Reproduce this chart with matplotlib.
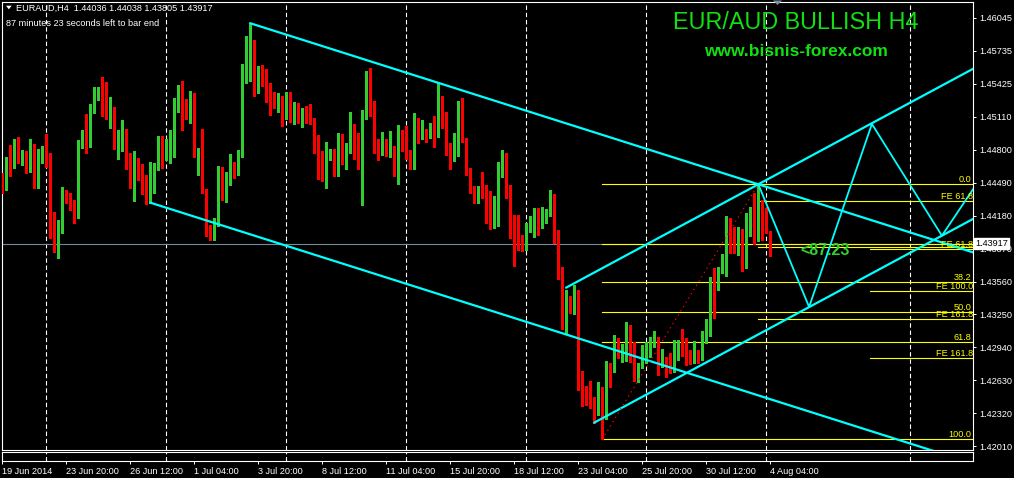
import numpy as np
import matplotlib
matplotlib.use("Agg")
import matplotlib.pyplot as plt
from matplotlib.transforms import blended_transform_factory

# EURAUD H4 candles (bar 0 = 19 Jun 2014)
opens = [1.44523, 1.44501, 1.44674, 1.44658, 1.44777, 1.44736, 1.44768, 1.44736, 1.44790, 1.44517,
         1.44696, 1.44871, 1.44730, 1.44108, 1.43936, 1.44086, 1.44375, 1.44353, 1.44281, 1.44171,
         1.44871, 1.44956, 1.44831, 1.45201, 1.45320, 1.45333, 1.45261, 1.45185, 1.45192, 1.44824,
         1.44856, 1.44925, 1.44752, 1.44460, 1.44680, 1.44532, 1.44470, 1.44375, 1.44564, 1.44633,
         1.44856, 1.44740, 1.44746, 1.44743, 1.45280, 1.45374, 1.45245, 1.45104, 1.45292, 1.44787,
         1.44799, 1.44413, 1.44021, 1.43983, 1.44093, 1.44602, 1.44350, 1.44495, 1.44605, 1.44586,
         1.44743, 1.45484, 1.45584, 1.45685, 1.45349, 1.45562, 1.45437, 1.45327, 1.45261, 1.45208,
         1.45261, 1.45104, 1.45296, 1.45104, 1.45176, 1.45129, 1.45139, 1.45107, 1.45091, 1.44894,
         1.44680, 1.44555, 1.44737, 1.44777, 1.44699, 1.44903, 1.44680, 1.44815, 1.44956, 1.44884,
         1.44752, 1.45123, 1.45449, 1.45223, 1.44856, 1.44799, 1.44894, 1.44784, 1.44825, 1.44564,
         1.44978, 1.44972, 1.44777, 1.44730, 1.45073, 1.44934, 1.44950, 1.44947, 1.45035, 1.44925,
         1.45167, 1.45091, 1.44799, 1.44746, 1.44916, 1.45208, 1.44909, 1.44573, 1.44454, 1.44322,
         1.44454, 1.44375, 1.44297, 1.44124, 1.44150, 1.44589, 1.44762, 1.44438, 1.44187, 1.44008,
         1.43970, 1.43867, 1.44068, 1.44115, 1.44140, 1.44134, 1.44156, 1.44209, 1.44360, 1.43989,
         1.43613, 1.43113, 1.43408, 1.43292, 1.43433, 1.42670, 1.42523, 1.42435, 1.42407, 1.42325,
         1.42454, 1.42360, 1.42765, 1.42749, 1.43000, 1.42868, 1.42906, 1.43032, 1.42906, 1.42711,
         1.42749, 1.42890, 1.42925, 1.42978, 1.43019, 1.42781, 1.42846, 1.42831, 1.42790, 1.42925,
         1.42978, 1.42947, 1.42859, 1.42828, 1.42890, 1.42828, 1.42994, 1.43057, 1.43597, 1.43518,
         1.43653, 1.43700, 1.44062, 1.43983, 1.43945, 1.44008, 1.43726, 1.44014, 1.44203, 1.44093,
         1.44281, 1.44209, 1.44036]
highs = [1.44579, 1.44730, 1.44846, 1.44903, 1.44919, 1.44799, 1.44790, 1.44903, 1.44856, 1.44809,
         1.44840, 1.44950, 1.44768, 1.44212, 1.44140, 1.44454, 1.44422, 1.44397, 1.44328, 1.44893,
         1.44988, 1.45138, 1.45233, 1.45390, 1.45390, 1.45484, 1.45437, 1.45295, 1.45207, 1.44988,
         1.45082, 1.44994, 1.44768, 1.44790, 1.44727, 1.44667, 1.44564, 1.44683, 1.44680, 1.44931,
         1.44931, 1.44900, 1.44988, 1.45292, 1.45412, 1.45449, 1.45277, 1.45355, 1.45333, 1.44815,
         1.44994, 1.44429, 1.44093, 1.44156, 1.44649, 1.44642, 1.44595, 1.44759, 1.44683, 1.44799,
         1.45610, 1.45873, 1.45993, 1.45836, 1.45591, 1.45600, 1.45559, 1.45427, 1.45343, 1.45333,
         1.45308, 1.45349, 1.45343, 1.45248, 1.45239, 1.45198, 1.45214, 1.45233, 1.45104, 1.44941,
         1.44790, 1.44878, 1.44806, 1.44806, 1.44956, 1.44947, 1.44869, 1.45154, 1.45044, 1.44956,
         1.45176, 1.45544, 1.45569, 1.45261, 1.44900, 1.44972, 1.44900, 1.44978, 1.44837, 1.45035,
         1.44988, 1.45026, 1.44799, 1.45151, 1.45098, 1.45082, 1.44994, 1.45057, 1.45120, 1.45434,
         1.45308, 1.45154, 1.44862, 1.44956, 1.45261, 1.45286, 1.44909, 1.44633, 1.44460, 1.44463,
         1.44595, 1.44470, 1.44416, 1.44366, 1.44690, 1.44799, 1.44768, 1.44470, 1.44187, 1.44187,
         1.43999, 1.44109, 1.44178, 1.44250, 1.44250, 1.44266, 1.44240, 1.44423, 1.44385, 1.44046,
         1.43700, 1.43481, 1.43424, 1.43528, 1.43481, 1.42718, 1.42576, 1.42623, 1.42476, 1.42617,
         1.42570, 1.42812, 1.42796, 1.43057, 1.43032, 1.42972, 1.43182, 1.43151, 1.42994, 1.42796,
         1.42963, 1.42994, 1.43041, 1.43094, 1.43041, 1.42925, 1.42853, 1.42884, 1.43010, 1.43010,
         1.43113, 1.43025, 1.42915, 1.43000, 1.42915, 1.43094, 1.43207, 1.43606, 1.43691, 1.43700,
         1.43817, 1.44178, 1.44162, 1.44071, 1.44077, 1.44055, 1.44203, 1.44259, 1.44398, 1.44476,
         1.44328, 1.44250, 1.44038]
lows = [1.44397, 1.44422, 1.44557, 1.44633, 1.44674, 1.44658, 1.44586, 1.44595, 1.44444, 1.44444,
        1.44674, 1.44642, 1.43973, 1.43842, 1.43779, 1.44021, 1.44297, 1.44234, 1.44115, 1.44162,
        1.44815, 1.44774, 1.44824, 1.45145, 1.45270, 1.45123, 1.45091, 1.45010, 1.44806, 1.44711,
        1.44793, 1.44617, 1.44444, 1.44322, 1.44517, 1.44382, 1.44287, 1.44303, 1.44391, 1.44611,
        1.44627, 1.44705, 1.44674, 1.44736, 1.45160, 1.44988, 1.45088, 1.45050, 1.44736, 1.44564,
        1.44398, 1.43989, 1.43952, 1.43952, 1.44084, 1.44328, 1.44313, 1.44470, 1.44539, 1.44564,
        1.44737, 1.45434, 1.45449, 1.45311, 1.45333, 1.45405, 1.45255, 1.45129, 1.45192, 1.45161,
        1.45026, 1.45091, 1.45066, 1.45041, 1.45051, 1.45019, 1.45051, 1.45044, 1.44768, 1.44526,
        1.44507, 1.44445, 1.44705, 1.44558, 1.44558, 1.44667, 1.44620, 1.44774, 1.44712, 1.44620,
        1.44281, 1.45091, 1.45120, 1.44774, 1.44705, 1.44752, 1.44743, 1.44737, 1.44555, 1.44479,
        1.44793, 1.44712, 1.44617, 1.44620, 1.44869, 1.44900, 1.44878, 1.44916, 1.44831, 1.44919,
        1.45003, 1.44752, 1.44620, 1.44699, 1.44743, 1.44878, 1.44564, 1.44398, 1.44297, 1.44303,
        1.44344, 1.44115, 1.44055, 1.44061, 1.44087, 1.44548, 1.44350, 1.43974, 1.43707, 1.43857,
        1.43851, 1.43857, 1.44030, 1.43977, 1.43999, 1.44061, 1.44109, 1.44181, 1.43927, 1.43581,
        1.43110, 1.43072, 1.43267, 1.43254, 1.42539, 1.42391, 1.42397, 1.42372, 1.42231, 1.42303,
        1.42074, 1.42262, 1.42570, 1.42711, 1.42837, 1.42806, 1.42815, 1.42806, 1.42627, 1.42611,
        1.42743, 1.42790, 1.42846, 1.42947, 1.42680, 1.42758, 1.42664, 1.42696, 1.42711, 1.42821,
        1.42862, 1.42774, 1.42780, 1.42790, 1.42796, 1.42821, 1.42985, 1.43050, 1.43220, 1.43481,
        1.43638, 1.43613, 1.43826, 1.43826, 1.43810, 1.43660, 1.43691, 1.43989, 1.43911, 1.43945,
        1.43952, 1.44014, 1.43805]
closes = [1.44501, 1.44674, 1.44658, 1.44777, 1.44727, 1.44768, 1.44746, 1.44790, 1.44517, 1.44705,
          1.44768, 1.44736, 1.44108, 1.43936, 1.44086, 1.44366, 1.44344, 1.44275, 1.44171, 1.44871,
          1.44956, 1.44831, 1.45201, 1.45327, 1.45327, 1.45255, 1.45176, 1.45192, 1.44824, 1.44856,
          1.44919, 1.44746, 1.44454, 1.44674, 1.44523, 1.44454, 1.44375, 1.44564, 1.44636, 1.44856,
          1.44642, 1.44746, 1.44752, 1.45280, 1.45380, 1.45239, 1.45104, 1.45292, 1.44784, 1.44793,
          1.44407, 1.44021, 1.43967, 1.44093, 1.44602, 1.44350, 1.44495, 1.44611, 1.44589, 1.44752,
          1.45484, 1.45594, 1.45694, 1.45349, 1.45569, 1.45421, 1.45311, 1.45255, 1.45201, 1.45255,
          1.45113, 1.45296, 1.45104, 1.45176, 1.45129, 1.45135, 1.45098, 1.45082, 1.44887, 1.44680,
          1.44555, 1.44743, 1.44774, 1.44699, 1.44903, 1.44674, 1.44815, 1.44950, 1.44869, 1.44759,
          1.45129, 1.45459, 1.45214, 1.44847, 1.44799, 1.44894, 1.44768, 1.44825, 1.44564, 1.44978,
          1.44799, 1.44774, 1.44727, 1.45073, 1.44925, 1.44950, 1.44944, 1.45044, 1.44925, 1.45167,
          1.45088, 1.44790, 1.44746, 1.44925, 1.45201, 1.44909, 1.44573, 1.44448, 1.44322, 1.44454,
          1.44369, 1.44291, 1.44134, 1.44156, 1.44602, 1.44752, 1.44429, 1.44181, 1.44005, 1.43967,
          1.43867, 1.44071, 1.44124, 1.44140, 1.44124, 1.44165, 1.44225, 1.44360, 1.43983, 1.43591,
          1.43120, 1.43418, 1.43292, 1.43443, 1.42664, 1.42514, 1.42422, 1.42397, 1.42319, 1.42454,
          1.42366, 1.42758, 1.42752, 1.43000, 1.42875, 1.42922, 1.43032, 1.42890, 1.42711, 1.42758,
          1.42900, 1.42937, 1.42985, 1.43010, 1.42784, 1.42843, 1.42828, 1.42784, 1.42931, 1.42978,
          1.42900, 1.42806, 1.42828, 1.42890, 1.42828, 1.43000, 1.43072, 1.43597, 1.43521, 1.43660,
          1.43707, 1.44062, 1.43974, 1.43952, 1.44008, 1.43726, 1.44024, 1.44203, 1.44093, 1.44281,
          1.44077, 1.44021, 1.43917]

date_ticks = [0, 16, 32, 48, 64, 80, 96, 112, 128, 144, 160, 176, 192]
date_labels = ["19 Jun 2014", "23 Jun 20:00", "26 Jun 12:00", "1 Jul 04:00", "3 Jul 20:00",
               "8 Jul 12:00", "11 Jul 04:00", "15 Jul 20:00", "18 Jul 12:00", "23 Jul 04:00",
               "25 Jul 20:00", "30 Jul 12:00", "4 Aug 04:00"]
price_ticks = [1.46045, 1.45735, 1.45425, 1.45110, 1.44800, 1.44490, 1.44180, 1.43870,
               1.43560, 1.43250, 1.42940, 1.42630, 1.42320, 1.42010]
separator_bars = [11, 41, 71, 101, 131, 161, 191, 227]
bid = 1.43917

# drawn objects, anchors as (bar, price)
down_chan_top = [(62, 1.45993), (189, 1.44476)]
down_chan_bottom_start = (37, 1.44303)
up_chan_bottom = [(148, 1.42231), (234.9, 1.43992)]
up_chan_top_start_bar = 141
zigzag_bars = [189, 201.7, 217.4, 234.9, 245]
zigzag_prices = [1.44476, 1.43321, 1.45044, 1.43992, 1.44560]
fib_low = (150, 1.42074)
fib_high = (189, 1.44476)
fib_ratios = [0.0, 23.6, 38.2, 50.0, 61.8, 100.0]
fib_labels = ["0.0", "", "38.2", "50.0", "61.8", "100.0"]
fe_a_start = 189
fe_a_levels = [1.44316, 1.43882, 1.43204]
fe_a_labels = ["FE 61.8", "", "FE 161.8"]
fe_b_start = 217
fe_b_levels = [1.43864, 1.43468, 1.42837]
fe_b_labels = ["FE 61.8", "FE 100.0", "FE 161.8"]

W, H = 1014, 478
XMIN, XMAX = -0.15, 242.75
YMIN, YMAX = 1.41973, 1.46198
GREEN = "#32CD32"
CYAN = "#00FFFF"
YELLOW = "#FFFF00"
FONT = "Liberation Sans"

fig = plt.figure(figsize=(W / 100, H / 100), dpi=100, facecolor="black")


def fx(px):
    return px / W


def fy(py):
    return 1 - py / H


ax = fig.add_axes([fx(1.7), fy(450), fx(971.6), 448.5 / H])
ax.set_facecolor("black")
ax.set_xlim(XMIN, XMAX)
ax.set_ylim(YMIN, YMAX)
for s in ax.spines.values():
    s.set_color("white")
    s.set_linewidth(0.8)

# period separators
for b in separator_bars:
    ax.axvline(b, color="white", lw=0.8, ls=(0, (4, 2.5)), zorder=1)

ax.axhline(bid, color="#778899", lw=0.8, zorder=1)

# candles
x = np.arange(len(opens))
o = np.array(opens)
c = np.array(closes)
cols = np.where(c >= o, GREEN, "#FF0000")
ax.vlines(x, lows, highs, colors=cols, lw=0.75, zorder=3, antialiased=False)
body_lo = np.minimum(o, c)
body_h = np.maximum(np.abs(c - o), 0.00009)
ax.bar(x, body_h, bottom=body_lo, width=0.75, color=cols, linewidth=0, zorder=3,
       antialiased=False)


def ray(p1, p2, start=None, end=260):
    slope = (p2[1] - p1[1]) / (p2[0] - p1[0])
    if start is None:
        start = p1
    return [start[0], end], [start[1], start[1] + slope * (end - start[0])]


# descending channel
xs, ys = ray(*down_chan_top)
ax.plot(xs, ys, color=CYAN, lw=1.6, zorder=4)
xs, ys = ray(*down_chan_top, start=down_chan_bottom_start)
ax.plot(xs, ys, color=CYAN, lw=1.6, zorder=4)

# ascending channel, upper line parallel through the swing high
xs, ys = ray(*up_chan_bottom)
ax.plot(xs, ys, color=CYAN, lw=1.6, zorder=4)
slope_up = (up_chan_bottom[1][1] - up_chan_bottom[0][1]) / (up_chan_bottom[1][0] - up_chan_bottom[0][0])
top_start = (up_chan_top_start_bar, fib_high[1] - slope_up * (fib_high[0] - up_chan_top_start_bar))
ax.plot([top_start[0], 260], [top_start[1], top_start[1] + slope_up * (260 - top_start[0])],
        color=CYAN, lw=1.6, zorder=4)

# projected zigzag
ax.plot(zigzag_bars, zigzag_prices, color=CYAN, lw=1.3, zorder=4)

# fibonacci retracement
ax.plot([fib_low[0], fib_high[0]], [fib_low[1], fib_high[1]], color="#FF0000", lw=0.9,
        ls=(0, (1, 3)), zorder=4)
lbl_x = (971.5 - 2.3) / 4
for r, lab in zip(fib_ratios, fib_labels):
    lvl = fib_high[1] - r / 100 * (fib_high[1] - fib_low[1])
    ax.plot([fib_low[0], 260], [lvl, lvl], color=YELLOW, lw=0.8, zorder=2)
    if lab:
        ax.text(lbl_x, lvl, lab, color=YELLOW, fontsize=6.6, family=FONT, ha="right",
                va="bottom", zorder=6)

for start, lvls, labs in [(fe_a_start, fe_a_levels, fe_a_labels), (fe_b_start, fe_b_levels, fe_b_labels)]:
    for lvl, lab in zip(lvls, labs):
        ax.plot([start, 260], [lvl, lvl], color=YELLOW, lw=0.8, zorder=2)
        if lab:
            ax.text(lbl_x + 0.4, lvl, lab, color=YELLOW, fontsize=6.6, family=FONT, ha="right",
                    va="bottom", zorder=6)

ax.text(199.4, 1.43810, "<87.23", color="#2ED22E", fontsize=11.5, family=FONT,
        fontweight="bold", ha="left", va="baseline", zorder=6)

# price axis
ax.yaxis.tick_right()
ax.set_yticks(price_ticks)
ax.set_yticklabels(["%.5f" % p for p in price_ticks])
ax.tick_params(axis="y", colors="white", length=2.2, width=0.7, pad=1.9, labelsize=6.6)
for t in ax.get_yticklabels():
    t.set_family(FONT)
ax.set_xticks([])

tr = blended_transform_factory(ax.transAxes, ax.transData)
ax.text(1.0017, bid, "%.5f" % bid, transform=tr, color="black", fontsize=6.6, family=FONT,
        ha="left", va="center", clip_on=False, zorder=20,
        bbox=dict(boxstyle="square,pad=0.12", fc="white", ec="white"))

# empty sub window with the time axis
sub = fig.add_axes([fx(1.7), fy(461.3), fx(971.6), 9 / H])
sub.set_facecolor("black")
sub.set_xlim(XMIN, XMAX)
sub.set_yticks([])
for s in sub.spines.values():
    s.set_color("white")
    s.set_linewidth(0.8)
for b in separator_bars:
    sub.axvline(b, color="white", lw=0.8, ls=(0, (4, 2.5)))
sub.set_xticks(date_ticks)
sub.set_xticklabels(date_labels)
sub.tick_params(axis="x", colors="white", length=2.2, width=0.7, pad=1.6, labelsize=6.6)
for t in sub.get_xticklabels():
    t.set_family(FONT)
    t.set_ha("left")

# header and watermark texts
fig.text(fx(16), fy(11.3), "EURAUD,H4  1.44036 1.44038 1.43805 1.43917", color="white",
         fontsize=6.6, family=FONT, va="baseline")
fig.text(fx(6), fy(25.5), "87 minutes 23 seconds left to bar end", color="white",
         fontsize=6.6, family=FONT, va="baseline")
fig.add_artist(plt.Polygon([(fx(6), fy(5.7)), (fx(11.7), fy(5.7)), (fx(8.85), fy(9.3))],
                           closed=True, fc="white", ec="none", transform=fig.transFigure))
fig.add_artist(plt.Polygon([(fx(773), fy(0.5)), (fx(782), fy(0.5)), (fx(777.5), fy(5))],
                           closed=True, fc="#8090a0", ec="none", transform=fig.transFigure))
fig.text(fx(796), fy(29.3), "EUR/AUD BULLISH H4", color="#11E011", fontsize=16.8,
         family=FONT, ha="center", va="baseline")
fig.text(fx(795.5), fy(56.5), "www.bisnis-forex.com", color="#11E011", fontsize=12.5,
         family=FONT, fontweight="bold", ha="center", va="baseline")

fig.savefig("out.png", dpi=100, facecolor="black")
